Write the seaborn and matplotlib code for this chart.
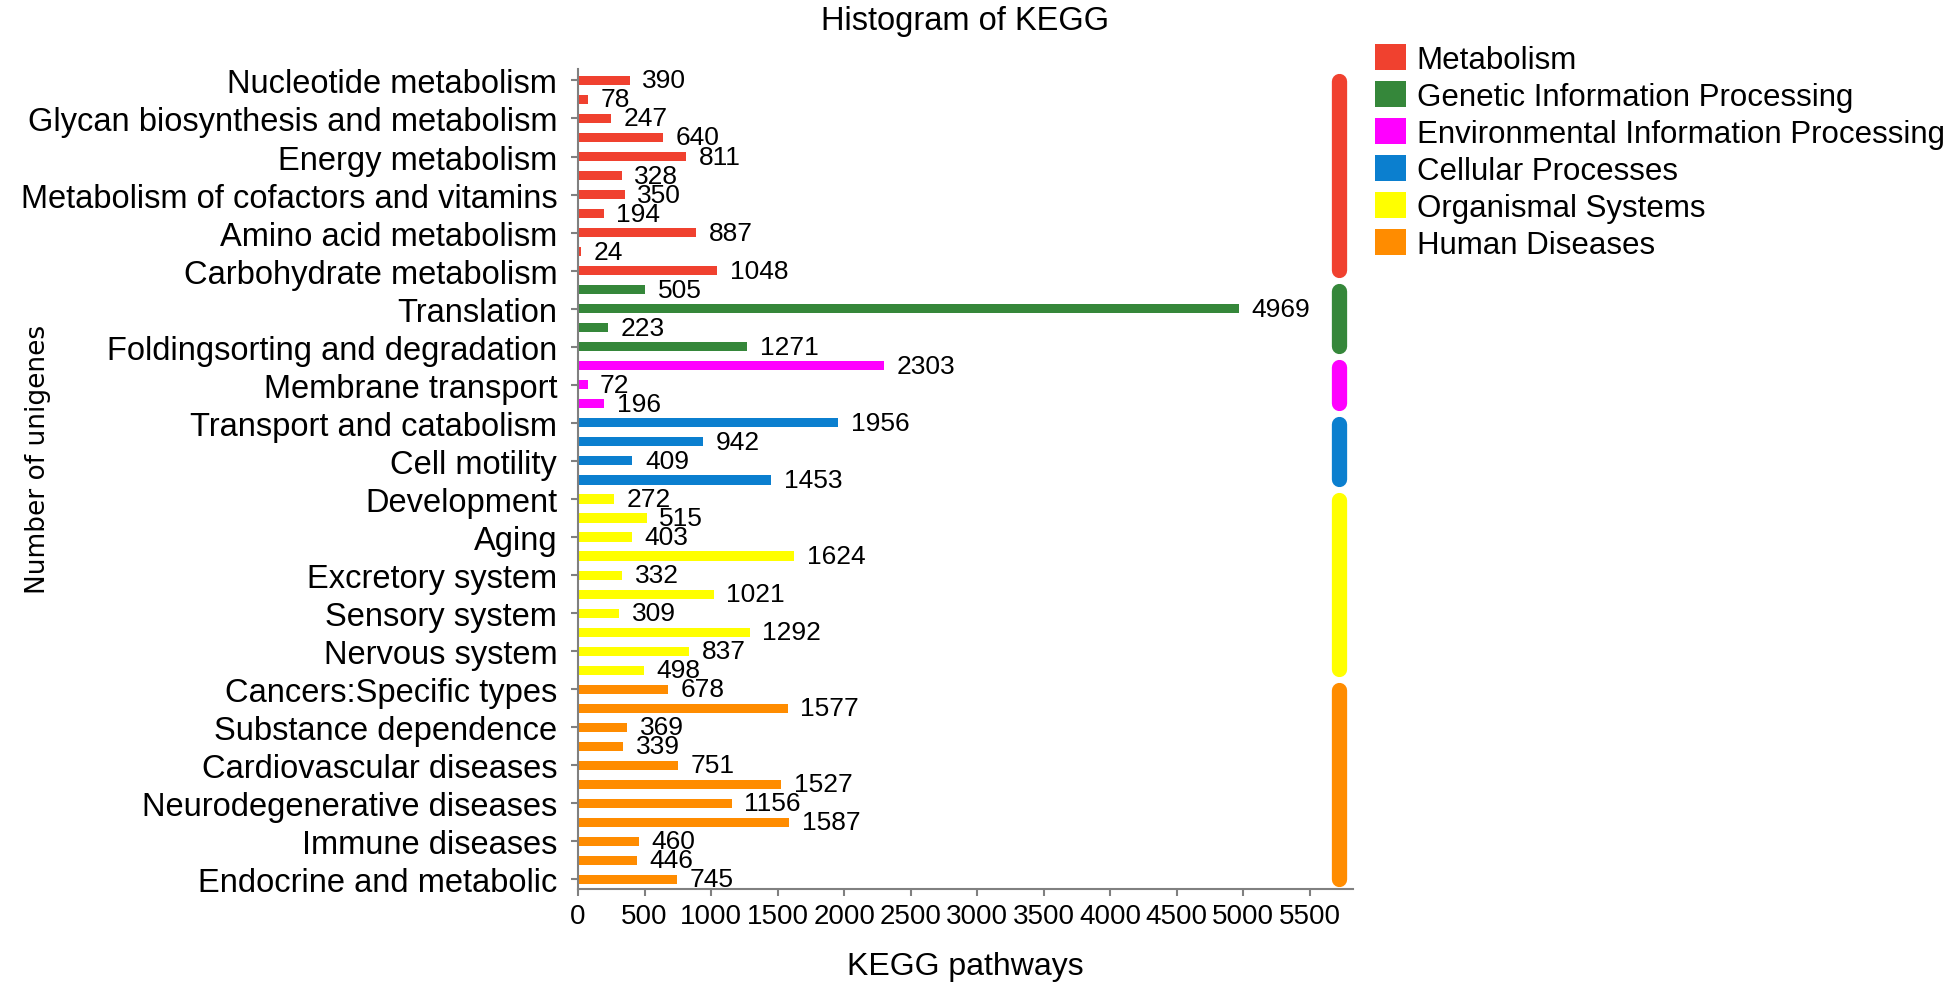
import matplotlib
matplotlib.use('Agg')
import matplotlib.pyplot as plt
from matplotlib.patches import Patch
from matplotlib.transforms import blended_transform_factory
import pandas as pd
import seaborn as sns

# KEGG level-1 groups and their colours
groups = ['Metabolism', 'Genetic Information Processing', 'Environmental Information Processing',
          'Cellular Processes', 'Organismal Systems', 'Human Diseases']
group_colors = ['#F0412F', '#35873A', '#FF00FF', '#0B7FCF', '#FFFF00', '#FF8C00']

# number of unigenes per pathway, top to bottom
metabolism = [390, 78, 247, 640, 811, 328, 350, 194, 887, 24, 1048]
genetic = [505, 4969, 223, 1271]
environmental = [2303, 72, 196]
cellular = [1956, 942, 409, 1453]
organismal = [272, 515, 403, 1624, 332, 1021, 309, 1292, 837, 498]
human = [678, 1577, 369, 339, 751, 1527, 1156, 1587, 460, 446, 745]

# only every other bar carries a label
pathway_labels = ['Nucleotide metabolism', 'Glycan biosynthesis and metabolism', 'Energy metabolism',
                  'Metabolism of cofactors and vitamins', 'Amino acid metabolism',
                  'Carbohydrate metabolism', 'Translation', 'Foldingsorting and degradation',
                  'Membrane transport', 'Transport and catabolism', 'Cell motility', 'Development',
                  'Aging', 'Excretory system', 'Sensory system', 'Nervous system',
                  'Cancers:Specific types', 'Substance dependence', 'Cardiovascular diseases',
                  'Neurodegenerative diseases', 'Immune diseases', 'Endocrine and metabolic']
x_ticks = [0, 500, 1000, 1500, 2000, 2500, 3000, 3500, 4000, 4500, 5000, 5500]

group_values = [metabolism, genetic, environmental, cellular, organismal, human]

rows = []
for g, vals in zip(groups, group_values):
    for v in vals:
        rows.append((len(rows), v, g))
df = pd.DataFrame(rows, columns=['pos', 'count', 'group'])
n_bars = len(df)

sns.set_style('ticks')
plt.rcParams['font.family'] = ['Liberation Sans', 'DejaVu Sans']
plt.rcParams['text.color'] = 'black'
plt.rcParams['axes.labelcolor'] = 'black'
plt.rcParams['xtick.labelcolor'] = 'black'
plt.rcParams['ytick.labelcolor'] = 'black'

fig = plt.figure(figsize=(19.55, 9.87), dpi=100)
ax = fig.add_axes([578 / 1955, 97 / 987, 775 / 1955, 820 / 987])

sns.barplot(data=df, x='count', y='pos', hue='group', hue_order=groups, palette=group_colors,
            order=list(range(n_bars)), orient='h', dodge=False, width=0.48, saturation=1,
            errorbar=None, legend=False, linewidth=0, ax=ax)

for c in ax.containers:
    ax.bar_label(c, padding=9, fontsize=19, color='black')

# coloured group strip on the right
trans = blended_transform_factory(ax.transAxes, ax.transData)
start = 0
for vals, col in zip(group_values, group_colors):
    end = start + len(vals) - 1
    ax.plot([0.982, 0.982], [start + 0.05, end - 0.05], transform=trans, color=col, lw=11,
            solid_capstyle='round', clip_on=False)
    start = end + 1

ax.set_xlim(0, 5824)
ax.set_ylim(n_bars - 0.5, -0.6)
ax.set_xticks(x_ticks)
ax.set_xticklabels([str(t) for t in x_ticks], fontsize=20)
ax.set_yticks(list(range(0, n_bars, 2)))
ax.set_yticklabels(pathway_labels, fontsize=23.5)
ax.tick_params(axis='y', length=5, width=1.5, color='#808080', pad=10)
ax.tick_params(axis='x', length=5, width=1.5, color='#808080', pad=5)

sns.despine(ax=ax)
for s in ['left', 'bottom']:
    ax.spines[s].set_color('#808080')
    ax.spines[s].set_linewidth(1.5)

ax.set_title('Histogram of KEGG', fontsize=23.5, pad=29)
ax.set_xlabel('KEGG pathways', fontsize=23, labelpad=16)
ax.set_ylabel('Number of unigenes', fontsize=19, family='DejaVu Sans')
ax.yaxis.set_label_coords(-0.68, 0.525)

handles = [Patch(facecolor=c, edgecolor='none') for c in group_colors]
fig.legend(handles, groups, loc='upper left', bbox_to_anchor=(1375 / 1955, 1 - 45 / 987),
           frameon=False, fontsize=22.5, handlelength=1.0, handleheight=0.9,
           handletextpad=0.33, labelspacing=0.2, borderpad=0, borderaxespad=0)

fig.savefig('out.png', dpi=100)
